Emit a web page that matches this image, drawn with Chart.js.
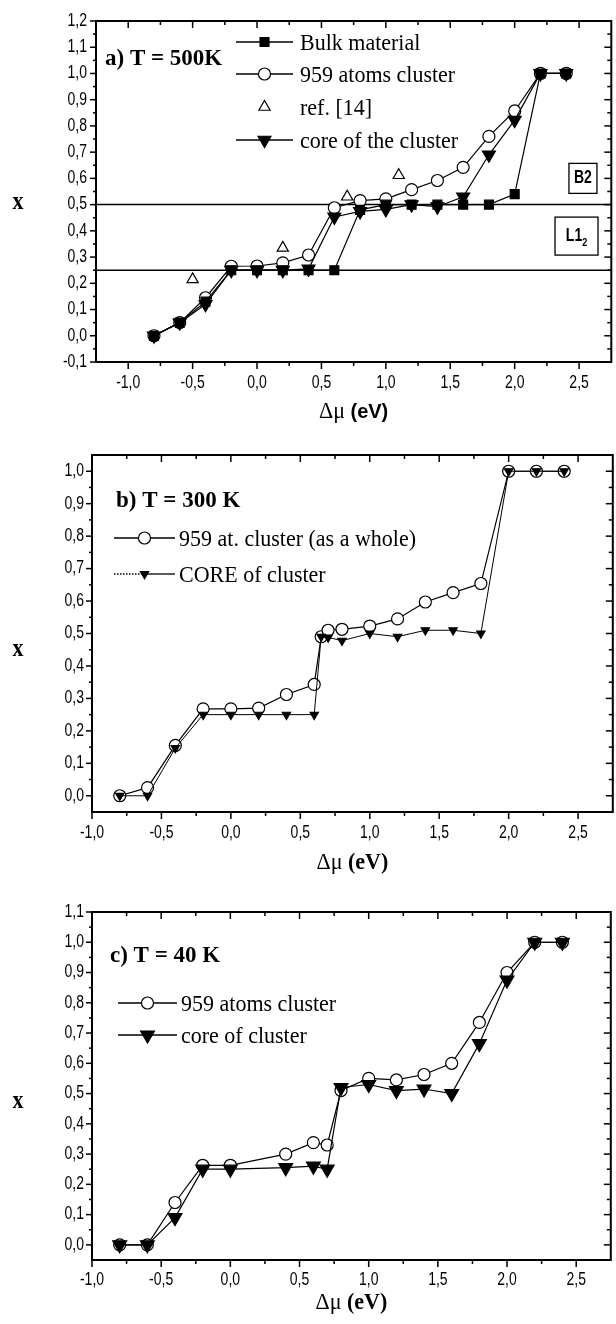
<!DOCTYPE html>
<html>
<head>
<meta charset="utf-8">
<script src="https://cdn.jsdelivr.net/npm/chart.js@4.4.1/dist/chart.umd.min.js"></script>
<style>
  html, body { margin: 0; padding: 0; background: #fff; overflow: hidden; width: 616px; height: 1324px; }
  canvas { position: absolute; left: 0; }
</style>
</head>
<body>
<canvas id="chartA" width="620" height="440" style="top:0px"></canvas>
<canvas id="chartB" width="620" height="460" style="top:425px"></canvas>
<canvas id="chartC" width="620" height="454" style="top:870px"></canvas>
<script>
// ---- tick values ----
const xTickVals = [-1.0, -0.5, 0.0, 0.5, 1.0, 1.5, 2.0, 2.5];
const yTicksA = [-0.1, 0.0, 0.1, 0.2, 0.3, 0.4, 0.5, 0.6, 0.7, 0.8, 0.9, 1.0, 1.1, 1.2];
const yTicksB = [0.0, 0.1, 0.2, 0.3, 0.4, 0.5, 0.6, 0.7, 0.8, 0.9, 1.0];
const yTicksC = [0.0, 0.1, 0.2, 0.3, 0.4, 0.5, 0.6, 0.7, 0.8, 0.9, 1.0, 1.1];

// ---- a) T = 500K ----
const muA = [-0.8, -0.6, -0.4, -0.2, 0.0, 0.2, 0.4, 0.6, 0.8, 1.0, 1.2, 1.4, 1.6, 1.8, 2.0, 2.2, 2.4];
const bulkA = [0, 0.05, 0.13, 0.25, 0.25, 0.25, 0.25, 0.25, 0.48, 0.5, 0.5, 0.5, 0.5, 0.5, 0.54, 1.0, 1.0];
const clusterA = [0, 0.05, 0.145, 0.265, 0.266, 0.278, 0.308, 0.488, 0.515, 0.522, 0.557, 0.592, 0.642, 0.76, 0.857, 1.0, 1.0];
const coreA = [0, 0.05, 0.12, 0.25, 0.25, 0.25, 0.255, 0.453, 0.474, 0.482, 0.5, 0.492, 0.53, 0.69, 0.822, 1.0, 1.0];
const muRefA = [-0.5, 0.2, 0.7, 1.1];
const refA = [0.215, 0.335, 0.53, 0.612];
const phaseLinesA = [0.25, 0.5];

// ---- b) T = 300 K ----
const muB = [-0.8, -0.6, -0.4, -0.2, 0.0, 0.2, 0.4, 0.6, 0.65, 0.7, 0.8, 1.0, 1.2, 1.4, 1.6, 1.8, 2.0, 2.2, 2.4];
const clusterB = [0, 0.025, 0.155, 0.268, 0.268, 0.27, 0.312, 0.343, 0.49, 0.51, 0.513, 0.523, 0.545, 0.597, 0.626, 0.654, 1.0, 1.0, 1.0];
const coreB = [0, 0, 0.147, 0.25, 0.25, 0.25, 0.25, 0.25, 0.49, 0.488, 0.478, 0.5, 0.49, 0.51, 0.51, 0.5, 1.0, 1.0, 1.0];

// ---- c) T = 40 K ----
const muC = [-0.8, -0.6, -0.4, -0.2, 0.0, 0.4, 0.6, 0.7, 0.8, 1.0, 1.2, 1.4, 1.6, 1.8, 2.0, 2.2, 2.4];
const clusterC = [0, 0, 0.14, 0.263, 0.263, 0.3, 0.338, 0.33, 0.51, 0.55, 0.545, 0.563, 0.6, 0.735, 0.9, 1.0, 1.0];
const coreC = [0, 0, 0.09, 0.25, 0.25, 0.255, 0.26, 0.25, 0.52, 0.53, 0.51, 0.515, 0.5, 0.665, 0.875, 1.0, 1.0];

const SERIF = '"Liberation Serif", "Times New Roman", serif';
const SANS = '"Liberation Sans", Arial, sans-serif';

function pts(mu, vals) {
  return mu.map((m, i) => ({ x: m, y: vals[i] }));
}

function series(label, mu, vals, style) {
  return Object.assign({
    label: label,
    data: pts(mu, vals),
    borderColor: '#000',
    borderWidth: 1.2,
    pointBorderColor: '#000',
    pointBorderWidth: 1.2,
    pointRotation: 0,
    tension: 0,
    fill: false,
    showLine: true
  }, style);
}

const openCircle = { pointStyle: 'circle', pointRadius: 6, pointBackgroundColor: '#fff' };
const blackSquare = { pointStyle: 'rect', pointRadius: 6.3, pointBackgroundColor: '#000' };
const openTriangle = { pointStyle: 'triangle', pointRadius: 6.5, pointBackgroundColor: '#fff', showLine: false };
function downTriangle(r) {
  return { pointStyle: 'triangle', pointRotation: 180, pointRadius: r, pointBackgroundColor: '#000' };
}

// stretched text (the scanned figure has slightly tall lettering)
function sText(ctx, text, x, y, font, align, sy, baseline) {
  ctx.save();
  ctx.translate(x, y);
  ctx.scale(1, sy);
  ctx.font = font;
  ctx.textAlign = align;
  ctx.textBaseline = baseline || 'middle';
  ctx.fillStyle = '#000';
  ctx.fillText(text, 0, 0);
  ctx.restore();
}

function fmt(v) {
  return v.toFixed(1).replace('.', ',');
}

function drawMarker(ctx, ds, x, y) {
  const r = ds.pointRadius;
  const rot = (ds.pointRotation || 0) * Math.PI / 180;
  ctx.save();
  ctx.fillStyle = ds.pointBackgroundColor;
  ctx.strokeStyle = '#000';
  ctx.lineWidth = 1.2;
  ctx.beginPath();
  if (ds.pointStyle === 'circle') {
    ctx.arc(x, y, r, 0, Math.PI * 2);
  } else if (ds.pointStyle === 'rect') {
    const s = r * Math.SQRT1_2;
    ctx.rect(x - s, y - s, 2 * s, 2 * s);
  } else {
    let a = rot;
    ctx.moveTo(x + Math.sin(a) * r, y - Math.cos(a) * r);
    a += Math.PI * 2 / 3;
    ctx.lineTo(x + Math.sin(a) * r, y - Math.cos(a) * r);
    a += Math.PI * 2 / 3;
    ctx.lineTo(x + Math.sin(a) * r, y - Math.cos(a) * r);
    ctx.closePath();
  }
  ctx.fill();
  ctx.stroke();
  ctx.restore();
}

function minorTicks(majors, min, max) {
  const out = [];
  const step = majors[1] - majors[0];
  const cand = [majors[0] - step / 2];
  for (let i = 0; i < majors.length - 1; i++) cand.push((majors[i] + majors[i + 1]) / 2);
  cand.push(majors[majors.length - 1] + step / 2);
  cand.forEach(v => { if (v > min + 1e-6 && v < max - 1e-6) out.push(v); });
  return out;
}

function panelPlugin(p) {
  return {
    id: 'panel',
    beforeDatasetsDraw(chart) {
      const { ctx, chartArea: a, scales: { x, y } } = chart;
      ctx.save();
      ctx.strokeStyle = '#000';
      // phase boundary lines
      ctx.lineWidth = 1.5;
      (p.hLines || []).forEach(v => {
        const py = y.getPixelForValue(v);
        ctx.beginPath(); ctx.moveTo(a.left, py); ctx.lineTo(a.right, py); ctx.stroke();
      });
      // frame
      ctx.lineWidth = 2;
      ctx.strokeRect(a.left, a.top, a.right - a.left, a.bottom - a.top);
      // ticks
      ctx.lineWidth = 1.5;
      const tick = (x0, y0, x1, y1) => { ctx.beginPath(); ctx.moveTo(x0, y0); ctx.lineTo(x1, y1); ctx.stroke(); };
      p.xTicks.forEach(v => {
        const px = x.getPixelForValue(v);
        tick(px, a.bottom, px, a.bottom + 7);
        tick(px, a.top, px, a.top + 7);
      });
      minorTicks(p.xTicks, p.xMin, p.xMax).forEach(v => {
        const px = x.getPixelForValue(v);
        tick(px, a.bottom, px, a.bottom + 4);
        tick(px, a.top, px, a.top + 4);
      });
      p.yTicks.forEach(v => {
        const py = y.getPixelForValue(v);
        tick(a.left - 6, py, a.left, py);
        tick(a.right - 7, py, a.right, py);
      });
      minorTicks(p.yTicks, p.yMin, p.yMax).forEach(v => {
        const py = y.getPixelForValue(v);
        tick(a.left - 3, py, a.left, py);
        tick(a.right - 4, py, a.right, py);
      });
      ctx.restore();
    },
    afterDraw(chart) {
      const { ctx, chartArea: a, scales: { x, y } } = chart;
      const off = p.top;
      // tick labels
      p.xTicks.forEach(v => {
        sText(ctx, fmt(v), x.getPixelForValue(v), a.bottom + p.labelGap, '14px ' + SANS, 'center', 1.25);
      });
      p.yTicks.forEach(v => {
        sText(ctx, fmt(v), a.left - p.yLabelGap, y.getPixelForValue(v), '14px ' + SANS, 'right', 1.25);
      });
      // axis titles
      sText(ctx, 'x', 18, p.yTitleY - off, 'bold 22px ' + SERIF, 'center', 1.1);
      const cx = (a.left + a.right) / 2;
      const ty = a.bottom + p.titleGap;
      ctx.save();
      ctx.font = '22px ' + SERIF;
      const w1 = ctx.measureText('\u0394\u03bc ').width;
      ctx.font = p.evFont;
      const w2 = ctx.measureText('(eV)').width;
      ctx.restore();
      const x0 = cx - (w1 + w2) / 2;
      sText(ctx, '\u0394\u03bc ', x0, ty, '22px ' + SERIF, 'left', 1.05);
      sText(ctx, '(eV)', x0 + w1, ty, p.evFont, 'left', 1.05);
      // panel title
      sText(ctx, p.title, p.titleX, p.titleBase - off, 'bold 23px ' + SERIF, 'left', 1.0, 'alphabetic');
      // legend
      const ds = chart.data.datasets;
      p.legend.forEach(e => {
        const d = ds[e.ds];
        const ly = e.y - off;
        if (d.showLine !== false) {
          ctx.save();
          ctx.strokeStyle = '#000'; ctx.lineWidth = 1.3;
          if (e.dotted) {
            const mid = (p.legX0 + p.legX1) / 2;
            ctx.setLineDash([1.5, 1.5]);
            ctx.beginPath(); ctx.moveTo(p.legX0, ly); ctx.lineTo(mid, ly); ctx.stroke();
            ctx.setLineDash([]);
            ctx.beginPath(); ctx.moveTo(mid, ly); ctx.lineTo(p.legX1, ly); ctx.stroke();
          } else {
            ctx.beginPath(); ctx.moveTo(p.legX0, ly); ctx.lineTo(p.legX1, ly); ctx.stroke();
          }
          ctx.restore();
        }
        drawMarker(ctx, d, (p.legX0 + p.legX1) / 2, ly);
        sText(ctx, d.label, p.legTextX, ly + 7.5, '22px ' + SERIF, 'left', 1.05, 'alphabetic');
      });
      // structure boxes
      (p.boxes || []).forEach(b => {
        const bx = x.getPixelForValue(b.x);
        const by = y.getPixelForValue(b.y);
        ctx.save();
        ctx.fillStyle = '#fff'; ctx.strokeStyle = '#000'; ctx.lineWidth = 1.3;
        ctx.fillRect(bx - b.w / 2, by - b.h / 2, b.w, b.h);
        ctx.strokeRect(bx - b.w / 2, by - b.h / 2, b.w, b.h);
        ctx.restore();
        if (b.sub) {
          ctx.save();
          ctx.font = 'bold 14px ' + SANS;
          const wm = ctx.measureText(b.text).width;
          ctx.font = 'bold 9px ' + SANS;
          const ws = ctx.measureText(b.sub).width;
          ctx.restore();
          const sx = bx - (wm + ws) / 2;
          sText(ctx, b.text, sx, by, 'bold 14px ' + SANS, 'left', 1.25);
          sText(ctx, b.sub, sx + wm, by + 7, 'bold 9px ' + SANS, 'left', 1.2);
        } else {
          sText(ctx, b.text, bx, by, 'bold 14px ' + SANS, 'center', 1.25);
        }
      });
    }
  };
}

function makeChart(p) {
  const canvas = document.getElementById(p.id);
  const xAxisH = p.height - (p.area.bottom - p.top);
  return new Chart(canvas, {
    type: 'line',
    data: { datasets: p.datasets },
    options: {
      responsive: false,
      animation: false,
      devicePixelRatio: 1,
      layout: { padding: { top: p.area.top - p.top, right: 620 - p.area.right, left: 0, bottom: 0 } },
      plugins: { legend: { display: false }, tooltip: { enabled: false } },
      scales: {
        x: {
          type: 'linear', min: p.xMin, max: p.xMax,
          ticks: { display: false }, grid: { display: false, drawTicks: false }, border: { display: false },
          afterFit: s => { s.height = xAxisH; }
        },
        y: {
          type: 'linear', min: p.yMin, max: p.yMax,
          ticks: { display: false }, grid: { display: false, drawTicks: false }, border: { display: false },
          afterFit: s => { s.width = p.area.left; }
        }
      }
    },
    plugins: [panelPlugin(p)]
  });
}

const panelA = {
  id: 'chartA', top: 0, height: 440,
  area: { top: 21, left: 96, right: 617, bottom: 362 },
  xMin: -1.25, xMax: 2.75, yMin: -0.1, yMax: 1.2,
  xTicks: xTickVals, yTicks: yTicksA,
  labelGap: 21, yLabelGap: 9, titleGap: 50, yTitleY: 203,
  evFont: 'bold 20px ' + SANS,
  title: 'a) T = 500K', titleX: 105, titleBase: 65,
  legX0: 236, legX1: 293, legTextX: 300,
  hLines: phaseLinesA,
  boxes: [
    { text: 'B2', x: 2.53, y: 0.6, w: 28, h: 30 },
    { text: 'L1', sub: '2', x: 2.48, y: 0.38, w: 43, h: 38 }
  ],
  datasets: [
    series('core of the cluster', muA, coreA, downTriangle(7.5)),
    series('Bulk material', muA, bulkA, blackSquare),
    series('ref. [14]', muRefA, refA, openTriangle),
    series('959 atoms cluster', muA, clusterA, openCircle)
  ],
  legend: [{ ds: 1, y: 42 }, { ds: 3, y: 74 }, { ds: 2, y: 107 }, { ds: 0, y: 140 }]
};

const panelB = {
  id: 'chartB', top: 425, height: 460,
  area: { top: 455, left: 92, right: 617, bottom: 812 },
  xMin: -1.0, xMax: 2.75, yMin: -0.05, yMax: 1.05,
  xTicks: xTickVals, yTicks: yTicksB,
  labelGap: 21, yLabelGap: 8, titleGap: 51, yTitleY: 650,
  evFont: 'bold 22px ' + SERIF,
  title: 'b) T = 300 K', titleX: 116, titleBase: 507,
  legX0: 114, legX1: 175, legTextX: 179,
  datasets: [
    series('CORE of cluster', muB, coreB, Object.assign(downTriangle(4.8), { borderWidth: 1 })),
    series('959 at. cluster (as a whole)', muB, clusterB, openCircle)
  ],
  legend: [{ ds: 1, y: 538 }, { ds: 0, y: 574, dotted: true }]
};

const panelC = {
  id: 'chartC', top: 870, height: 454,
  area: { top: 912, left: 92, right: 617, bottom: 1260 },
  xMin: -1.0, xMax: 2.75, yMin: -0.05, yMax: 1.1,
  xTicks: xTickVals, yTicks: yTicksC,
  labelGap: 20, yLabelGap: 8, titleGap: 43, yTitleY: 1102,
  evFont: 'bold 22px ' + SERIF,
  title: 'c) T = 40 K', titleX: 110, titleBase: 962,
  legX0: 118, legX1: 177, legTextX: 181,
  datasets: [
    series('core of cluster', muC, coreC, downTriangle(8)),
    series('959 atoms cluster', muC, clusterC, openCircle)
  ],
  legend: [{ ds: 1, y: 1003 }, { ds: 0, y: 1035 }]
};

makeChart(panelA);
makeChart(panelB);
makeChart(panelC);
</script>
</body>
</html>
